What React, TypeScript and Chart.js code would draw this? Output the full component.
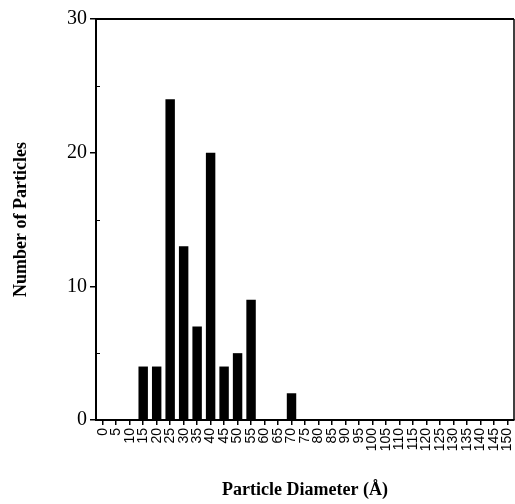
import React, { useEffect, useRef } from "react";
import { Chart, registerables } from "chart.js";

Chart.register(...registerables);

const categories: string[] = [
  "0", "5", "10", "15", "20", "25", "30", "35", "40", "45", "50", "55", "60", "65", "70", "75",
  "80", "85", "90", "95", "100", "105", "110", "115", "120", "125", "130", "135", "140", "145", "150",
];
const particleCounts: number[] = [
  0, 0, 0, 4, 4, 24, 13, 7, 20, 4, 5, 9, 0, 0, 2, 0,
  0, 0, 0, 0, 0, 0, 0, 0, 0, 0, 0, 0, 0, 0, 0,
];
const yTicks: number[] = [0, 10, 20, 30];
const yMinorTicks: number[] = [5, 15, 25];

const SERIF = "'Liberation Serif', 'Times New Roman', serif";
const SANS = "'Liberation Sans', Arial, sans-serif";

const framePlugin = {
  id: "frame",
  afterDraw(chart: any) {
    const { ctx, chartArea } = chart;
    const { left, top, right, bottom } = chartArea;
    const y = chart.scales.y;
    ctx.save();
    ctx.strokeStyle = "#000";
    ctx.lineWidth = 2;
    ctx.beginPath();
    ctx.moveTo(left, top);
    ctx.lineTo(right, top);
    ctx.stroke();
    ctx.lineWidth = 1.5;
    ctx.beginPath();
    ctx.moveTo(right, top);
    ctx.lineTo(right, bottom);
    ctx.stroke();
    ctx.lineWidth = 1;
    ctx.beginPath();
    for (const v of yMinorTicks) {
      const py = Math.round(y.getPixelForValue(v)) + 0.5;
      ctx.moveTo(left, py);
      ctx.lineTo(left + 4, py);
    }
    ctx.stroke();
    ctx.restore();
  },
};

export default function App() {
  const canvasRef = useRef<HTMLCanvasElement | null>(null);

  useEffect(() => {
    const canvas = canvasRef.current;
    if (!canvas) return;
    const chart = new Chart(canvas, {
      type: "bar",
      data: {
        labels: categories,
        datasets: [
          {
            data: particleCounts,
            backgroundColor: "#000",
            borderWidth: 0,
            barPercentage: 0.7,
            categoryPercentage: 1,
          },
        ],
      },
      options: {
        responsive: false,
        animation: false,
        layout: { padding: { top: 19, right: 1, left: 0, bottom: 0 } },
        plugins: {
          legend: { display: false },
          tooltip: { enabled: false },
        },
        scales: {
          x: {
            type: "category",
            offset: true,
            grid: {
              offset: false,
              drawOnChartArea: false,
              drawTicks: true,
              tickLength: 5,
              color: "#000",
              lineWidth: 1.5,
            },
            border: { display: true, color: "#000", width: 2 },
            ticks: {
              autoSkip: false,
              minRotation: 90,
              maxRotation: 90,
              padding: 3,
              color: "#000",
              font: { family: SANS, size: 14 },
            },
            title: {
              display: true,
              text: "Particle Diameter (Å)",
              color: "#000",
              font: { family: SERIF, size: 18, weight: "bold" },
              padding: { top: 0, bottom: 3 },
            },
            afterFit: (s: any) => {
              s.height = 84;
              s.paddingLeft = 0;
              s.paddingRight = 0;
            },
          },
          y: {
            min: 0,
            max: 30,
            afterBuildTicks: (s: any) => {
              s.ticks = yTicks.map((v) => ({ value: v }));
            },
            grid: {
              drawOnChartArea: false,
              drawTicks: true,
              tickLength: 6,
              color: "#000",
              lineWidth: 1.5,
            },
            border: { display: true, color: "#000", width: 2 },
            ticks: {
              padding: 3,
              color: "#000",
              font: { family: SERIF, size: 20 },
            },
            title: {
              display: true,
              text: "Number of Particles",
              color: "#000",
              font: { family: SERIF, size: 18, weight: "bold" },
              padding: { top: 11, bottom: 0 },
            },
            afterFit: (s: any) => {
              s.width = 96;
              s.paddingTop = 0;
              s.paddingBottom = 0;
            },
          },
        },
      },
      plugins: [framePlugin],
    });
    return () => chart.destroy();
  }, []);

  return (
    <div style={{ position: "fixed", left: 0, top: 0, width: 515, height: 504, background: "#fff" }}>
      <canvas ref={canvasRef} width={515} height={504} style={{ display: "block" }} />
    </div>
  );
}
